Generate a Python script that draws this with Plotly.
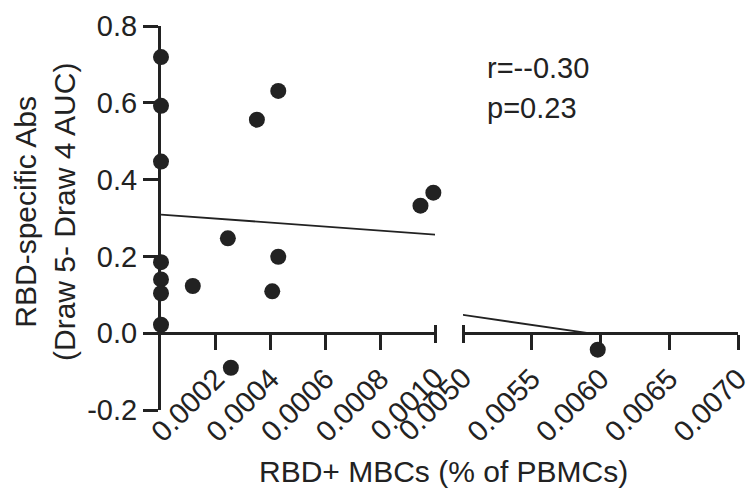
import plotly.graph_objects as go

# ---- data ----
left_x = [0, 0, 0, 0, 0, 0, 0,
          0.000116, 0.000244, 0.000255, 0.000350, 0.000428, 0.000428, 0.000406,
          0.000947, 0.000994, 0.001003]
left_y = [0.719, 0.592, 0.447, 0.185, 0.140, 0.104, 0.022,
          0.123, 0.247, -0.090, 0.556, 0.631, 0.199, 0.109,
          0.332, 0.366, 0.331]
right_x = [0.00598]
right_y = [-0.043]

fit_x = [0, 0.00595]
fit_y = [0.309, -0.002]

y_ticks = [-0.2, 0.0, 0.2, 0.4, 0.6, 0.8]
y_ticktext = ["-0.2", "0.0", "0.2", "0.4", "0.6", "0.8"]
left_ticks = [0.0002, 0.0004, 0.0006, 0.0008]
left_ticktext = ["0.0002", "0.0004", "0.0006", "0.0008"]
left_cap = [0.0010]
left_cap_text = ["0.0010"]
right_ticks = [0.0055, 0.0060, 0.0065, 0.0070]
right_ticktext = ["0.0055", "0.0060", "0.0065", "0.0070"]
right_cap = [0.0050]
right_cap_text = ["0.0050"]

stats_r = "r=--0.30"
stats_p = "p=0.23"
x_title = "RBD+ MBCs (% of PBMCs)"
y_title = "RBD-specific Abs<br>(Draw 5- Draw 4 AUC)"

# ---- geometry ----
W, H = 746, 489
ML, MR, MT, MB = 161, 8, 26, 79
PW = W - ML - MR
PH = H - MT - MB
d1 = (435 - ML) / PW
d2 = (463 - ML) / PW
x_pos = 0.2
cap_pos = 0.2 + 9 / PH
EPS = 1e-8

INK = "#222222"
FONT = "Liberation Sans, Arial, sans-serif"
TF = 29

fig = go.Figure()

fig.add_trace(go.Scatter(x=fit_x, y=fit_y, mode="lines", xaxis="x", yaxis="y",
                         line=dict(color=INK, width=1.8), showlegend=False, hoverinfo="skip"))
fig.add_trace(go.Scatter(x=fit_x, y=fit_y, mode="lines", xaxis="x2", yaxis="y",
                         line=dict(color=INK, width=1.8), showlegend=False, hoverinfo="skip"))
fig.add_trace(go.Scatter(x=left_x, y=left_y, mode="markers", xaxis="x", yaxis="y",
                         marker=dict(color=INK, size=16), cliponaxis=False, showlegend=False))
fig.add_trace(go.Scatter(x=right_x, y=right_y, mode="markers", xaxis="x2", yaxis="y",
                         marker=dict(color=INK, size=16), cliponaxis=False, showlegend=False))
# invisible traces so that the overlay (cap) axes get drawn
fig.add_trace(go.Scatter(x=left_cap, y=[None], mode="markers", xaxis="x3", yaxis="y",
                         showlegend=False, hoverinfo="skip"))
fig.add_trace(go.Scatter(x=right_cap, y=[None], mode="markers", xaxis="x4", yaxis="y",
                         showlegend=False, hoverinfo="skip"))

common_x = dict(showgrid=False, zeroline=False, tickangle=-45, automargin=False,
                ticklabeloverflow="allow",
                tickfont=dict(family=FONT, size=TF, color=INK),
                ticks="outside", tickwidth=3, tickcolor=INK, anchor="free")

fig.update_layout(
    width=W, height=H,
    margin=dict(l=ML, r=MR, t=MT, b=MB, pad=0, autoexpand=False),
    paper_bgcolor="white", plot_bgcolor="white",
    showlegend=False,
    xaxis=dict(domain=[0, d1], range=[-EPS, 0.001 + EPS], position=x_pos,
               showline=True, linewidth=3, linecolor=INK, ticklen=15,
               tickmode="array", tickvals=left_ticks, ticktext=left_ticktext, **common_x),
    xaxis3=dict(domain=[0, d1], range=[-EPS, 0.001 + EPS], position=cap_pos, overlaying="x",
                showline=False, ticklen=18, ticklabelstandoff=6,
                tickmode="array", tickvals=left_cap, ticktext=left_cap_text, **common_x),
    xaxis2=dict(domain=[d2, 1], range=[0.005 - EPS, 0.007 + EPS], position=x_pos,
                showline=True, linewidth=3, linecolor=INK, ticklen=15,
                tickmode="array", tickvals=right_ticks, ticktext=right_ticktext, **common_x),
    xaxis4=dict(domain=[d2, 1], range=[0.005 - EPS, 0.007 + EPS], position=cap_pos, overlaying="x2",
                showline=False, ticklen=18, ticklabelstandoff=6,
                tickmode="array", tickvals=right_cap, ticktext=right_cap_text, **common_x),
    yaxis=dict(range=[-0.2, 0.8], anchor="x", showgrid=False, zeroline=False, automargin=False,
               showline=True, linewidth=3, linecolor=INK,
               ticks="outside", ticklen=15, tickwidth=3, tickcolor=INK,
               tickmode="array", tickvals=y_ticks, ticktext=y_ticktext,
               tickfont=dict(family=FONT, size=TF, color=INK)),
    annotations=[
        dict(text=stats_r, xref="paper", yref="paper", x=(485 - ML) / PW, y=(MT + PH - 68) / PH,
             xanchor="left", yanchor="middle", showarrow=False,
             font=dict(family=FONT, size=TF, color=INK)),
        dict(text=stats_p, xref="paper", yref="paper", x=(485 - ML) / PW, y=(MT + PH - 108) / PH,
             xanchor="left", yanchor="middle", showarrow=False,
             font=dict(family=FONT, size=TF, color=INK)),
        dict(text=x_title, xref="paper", yref="paper", x=(257 - ML) / PW, y=(MT + PH - 471) / PH,
             xanchor="left", yanchor="middle", showarrow=False,
             font=dict(family=FONT, size=30, color=INK)),
        dict(text=y_title, xref="paper", yref="paper", x=(45 - ML) / PW, y=(MT + PH - 212) / PH,
             xanchor="center", yanchor="middle", textangle=-90, showarrow=False,
             font=dict(family=FONT, size=30, color=INK)),
    ],
)

fig.write_html("out.html", config={"displayModeBar": False},
               post_script="document.body.style.margin='0';document.body.style.padding='0';")
